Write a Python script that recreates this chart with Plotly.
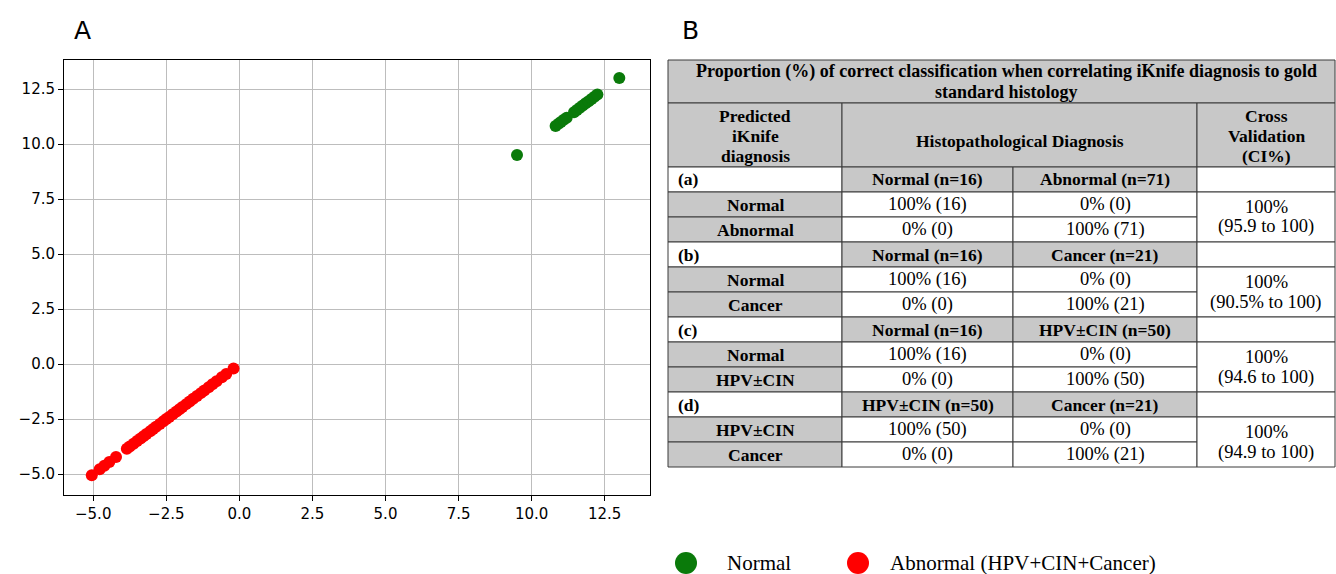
import plotly.graph_objects as go

# ---------------- data ----------------
normal_x = [9.5, 10.82, 10.92, 11.0, 11.1, 11.2, 11.45, 11.55, 11.65, 11.75, 11.85, 11.95, 12.05, 12.15, 12.25, 13.0]
normal_y = [9.5, 10.82, 10.92, 11.0, 11.1, 11.2, 11.45, 11.55, 11.65, 11.75, 11.85, 11.95, 12.05, 12.15, 12.25, 13.0]

abnormal_x = [-5.05, -4.78, -4.62, -4.45, -4.22, -3.85, -3.75, -3.62, -3.5, -3.38, -3.28, -3.18,
              -3.05, -2.95, -2.85, -2.72, -2.6, -2.5, -2.4, -2.28, -2.15, -2.05, -1.95, -1.82,
              -1.7, -1.58, -1.45, -1.32, -1.2, -1.05, -0.92, -0.78, -0.6, -0.45, -0.2]
abnormal_y = [-5.05, -4.78, -4.62, -4.45, -4.22, -3.85, -3.75, -3.62, -3.5, -3.38, -3.28, -3.18,
              -3.05, -2.95, -2.85, -2.72, -2.6, -2.5, -2.4, -2.28, -2.15, -2.05, -1.95, -1.82,
              -1.7, -1.58, -1.45, -1.32, -1.2, -1.05, -0.92, -0.78, -0.6, -0.45, -0.2]

tick_vals = [-5.0, -2.5, 0.0, 2.5, 5.0, 7.5, 10.0, 12.5]

legend_labels = ["Normal", "Abnormal (HPV+CIN+Cancer)"]
series_colors = ["#0a7a0a", "#ff0000"]

table_title = ["Proportion (%) of correct classification when correlating iKnife diagnosis to gold",
               "standard histology"]
header_cols = [["Predicted", "iKnife", "diagnosis"], ["Histopathological Diagnosis"],
               ["Cross", "Validation", "(CI%)"]]
group_labels = ["(a)", "(b)", "(c)", "(d)"]
group_headers = [["Normal (n=16)", "Abnormal (n=71)"],
                 ["Normal (n=16)", "Cancer (n=21)"],
                 ["Normal (n=16)", "HPV±CIN (n=50)"],
                 ["HPV±CIN (n=50)", "Cancer (n=21)"]]
row_labels = [["Normal", "Abnormal"],
              ["Normal", "Cancer"],
              ["Normal", "HPV±CIN"],
              ["HPV±CIN", "Cancer"]]
cell_values = [[["100% (16)", "0% (0)"], ["0% (0)", "100% (71)"]],
               [["100% (16)", "0% (0)"], ["0% (0)", "100% (21)"]],
               [["100% (16)", "0% (0)"], ["0% (0)", "100% (50)"]],
               [["100% (50)", "0% (0)"], ["0% (0)", "100% (21)"]]]
cv_values = [["100%", "(95.9 to 100)"], ["100%", "(90.5% to 100)"],
             ["100%", "(94.6 to 100)"], ["100%", "(94.9 to 100)"]]

# ---------------- layout helpers ----------------
W, H = 1336, 574
def X(px):
    return px / W
def Y(py):
    return 1 - py / H

fig = go.Figure()
fig.add_trace(go.Scatter(x=normal_x, y=normal_y, mode="markers", name=legend_labels[0],
                         marker=dict(color=series_colors[0], size=12, line=dict(width=0)),
                         showlegend=False))
fig.add_trace(go.Scatter(x=abnormal_x, y=abnormal_y, mode="markers", name=legend_labels[1],
                         marker=dict(color=series_colors[1], size=12, line=dict(width=0)),
                         showlegend=False))

axis_common = dict(showline=True, linecolor="black", linewidth=1, mirror=True,
                   ticks="outside", ticklen=5, tickcolor="black", tickwidth=1,
                   showgrid=True, gridcolor="#bdbdbd", gridwidth=1.3, zeroline=False,
                   tickvals=tick_vals, tickformat=".1f",
                   tickfont=dict(family="DejaVu Sans", size=15, color="black"))

fig.update_layout(
    width=W, height=H, margin=dict(l=0, r=0, t=0, b=0),
    paper_bgcolor="white", plot_bgcolor="white",
    xaxis=dict(domain=[X(64), X(650)], range=[-6.0, 14.05], **axis_common),
    yaxis=dict(domain=[Y(495), Y(60)], range=[-5.95, 13.82], **axis_common),
)

shapes = []
annotations = []
GRAY = "#c8c8c8"
LINE = "#3a3a3a"
FSB = 17.5
FSR = 18.5

def rect(x0, y0, x1, y1, fill):
    shapes.append(dict(type="rect", xref="paper", yref="paper",
                       x0=X(x0), x1=X(x1), y0=Y(y1), y1=Y(y0),
                       fillcolor=fill, line=dict(color=LINE, width=1), layer="above"))

def text(xc, yc, lines, size=None, bold=False, anchor="center", spacing=20):
    if isinstance(lines, str):
        lines = [lines]
    if size is None:
        size = FSB if bold else FSR
    n = len(lines)
    for i, s in enumerate(lines):
        yy = yc + (i - (n - 1) / 2) * spacing
        annotations.append(dict(xref="paper", yref="paper", x=X(xc), y=Y(yy),
                                text=("<b>%s</b>" % s) if bold else s,
                                showarrow=False, xanchor=anchor, yanchor="middle", align="center",
                                font=dict(family="Liberation Serif", size=size, color="black")))

cols = [668, 842, 1013, 1197, 1335]
# title row
rect(cols[0], 60, cols[4], 103, GRAY)
text((cols[0] + cols[4]) / 2 + 5, 82, table_title, size=18, bold=True)
# header row
rect(cols[0], 103, cols[1], 167, GRAY)
rect(cols[1], 103, cols[3], 167, GRAY)
rect(cols[3], 103, cols[4], 167, GRAY)
text((cols[0] + cols[1]) / 2, 136, header_cols[0], bold=True)
text((cols[1] + cols[3]) / 2, 141, header_cols[1], bold=True)
text((cols[3] + cols[4]) / 2, 136, header_cols[2], bold=True)

rh = 25
for g in range(4):
    top = 167 + 3 * rh * g
    rect(cols[0], top, cols[1], top + rh, "white")
    text(cols[0] + 8, top + rh / 2, group_labels[g], bold=True, anchor="left")
    for c in range(2):
        rect(cols[1 + c], top, cols[2 + c], top + rh, GRAY)
        text((cols[1 + c] + cols[2 + c]) / 2, top + rh / 2, group_headers[g][c], bold=True)
    rect(cols[3], top, cols[4], top + rh, "white")
    for r in range(2):
        y0 = top + rh * (r + 1)
        rect(cols[0], y0, cols[1], y0 + rh, GRAY)
        text((cols[0] + cols[1]) / 2, y0 + rh / 2, row_labels[g][r], bold=True)
        for c in range(2):
            rect(cols[1 + c], y0, cols[2 + c], y0 + rh, "white")
            text((cols[1 + c] + cols[2 + c]) / 2, y0 + rh / 2, cell_values[g][r][c])
    rect(cols[3], top + rh, cols[4], top + 3 * rh, "white")
    text((cols[3] + cols[4]) / 2, top + 2 * rh, cv_values[g])

# panel letters
annotations.append(dict(xref="paper", yref="paper", x=X(82), y=Y(30), text="A", showarrow=False,
                        xanchor="center", yanchor="middle",
                        font=dict(family="DejaVu Sans", size=25, color="black")))
annotations.append(dict(xref="paper", yref="paper", x=X(690), y=Y(30), text="B", showarrow=False,
                        xanchor="center", yanchor="middle",
                        font=dict(family="DejaVu Sans", size=25, color="black")))

# custom legend
leg_pos = [(686, 725), (858, 888)]
for (cx, tx), lab, col in zip(leg_pos, legend_labels, series_colors):
    r = 11
    shapes.append(dict(type="circle", xref="paper", yref="paper",
                       x0=X(cx - r), x1=X(cx + r), y0=Y(563 + r), y1=Y(563 - r),
                       fillcolor=col, line=dict(width=0)))
    annotations.append(dict(xref="paper", yref="paper", x=X(tx), y=Y(563), text=lab, showarrow=False,
                            xanchor="left", yanchor="middle",
                            font=dict(family="Liberation Serif", size=21, color="black")))

fig.update_layout(shapes=shapes, annotations=annotations)
fig.write_html("out.html", config={"displayModeBar": False},
               post_script="document.body.style.margin='0px';")
